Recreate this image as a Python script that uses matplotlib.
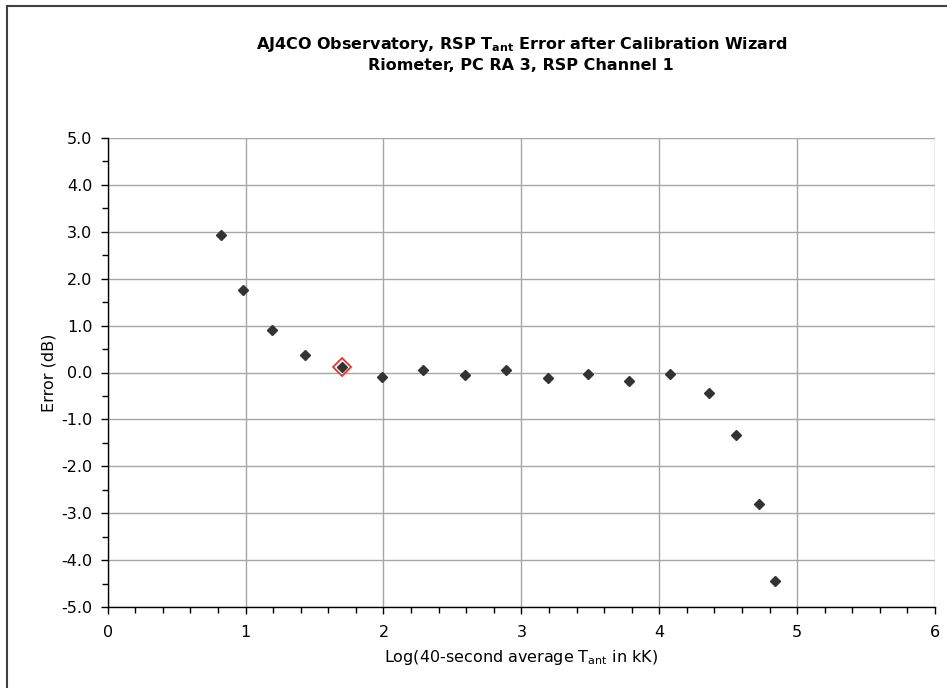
import matplotlib
matplotlib.use("Agg")
import matplotlib.pyplot as plt
from matplotlib.lines import Line2D
from matplotlib.ticker import MultipleLocator, FormatStrFormatter

# Data
log_tant = [0.82, 0.98, 1.19, 1.43, 1.70, 1.99, 2.29, 2.59, 2.89, 3.19,
            3.48, 3.78, 4.08, 4.36, 4.56, 4.72, 4.84]
error_db = [2.93, 1.76, 0.90, 0.37, 0.12, -0.09, 0.05, -0.05, 0.05, -0.12,
            -0.03, -0.18, -0.03, -0.44, -1.34, -2.80, -4.44]
highlight_index = 4

title_lines = [r"AJ4CO Observatory, RSP T$_{\mathbf{ant}}$ Error after Calibration Wizard",
               "Riometer, PC RA 3, RSP Channel 1"]
x_label = r"Log(40-second average T$_{\mathregular{ant}}$ in kK)"
y_label = "Error (dB)"

plt.rcParams['font.family'] = ['DejaVu Sans']
plt.rcParams['mathtext.fontset'] = 'dejavusans'

W, H = 947, 688
fig = plt.figure(figsize=(W / 100, H / 100), dpi=100)
ax = fig.add_axes([107.7 / W, 1 - 607 / H, (935 - 107.7) / W, (607 - 138) / H])

ax.set_xlim(0, 6)
ax.set_ylim(-5, 5)
ax.xaxis.set_major_locator(MultipleLocator(1))
ax.xaxis.set_minor_locator(MultipleLocator(0.2))
ax.yaxis.set_major_locator(MultipleLocator(1))
ax.yaxis.set_minor_locator(MultipleLocator(0.5))
ax.yaxis.set_major_formatter(FormatStrFormatter('%.1f'))
ax.xaxis.set_major_formatter(FormatStrFormatter('%d'))

ax.grid(True, which='major', color='#a6a6a6', linewidth=1.0)
ax.set_axisbelow(True)
for s in ['top', 'right']:
    ax.spines[s].set_visible(False)
for s in ['left', 'bottom']:
    ax.spines[s].set_color('black')
    ax.spines[s].set_linewidth(1.0)

ax.tick_params(axis='both', which='major', direction='out', length=5, width=1,
               labelsize=11.5, colors='black', pad=6)
ax.tick_params(axis='both', which='minor', direction='out', length=4, width=1)
ax.tick_params(axis='x', which='major', pad=8)

# highlighted point outline
hx, hy = log_tant[highlight_index], error_db[highlight_index]
ax.plot([hx], [hy], linestyle='none', marker='D', markersize=9,
        markerfacecolor='white', markeredgecolor='#ff2020', markeredgewidth=1.2, zorder=3)
ax.plot(log_tant, error_db, linestyle='none', marker='D', markersize=5.5,
        markerfacecolor='#333333', markeredgecolor='#333333', zorder=4)

ax.set_xlabel(x_label, fontsize=11.5, labelpad=6)
ax.set_ylabel(y_label, fontsize=11.5, labelpad=3.5)

cx = (107.7 + 935) / 2 / W
fig.text(cx, 1 - 45 / H, title_lines[0], ha='center', va='center',
         fontsize=11.5, fontweight='bold')
fig.text(cx, 1 - 66 / H, title_lines[1], ha='center', va='center',
         fontsize=11.5, fontweight='bold')

# outer chart frame (top and left edges visible)
fig.add_artist(Line2D([7 / W, 7 / W], [0, 1 - 6 / H], color='#404040', linewidth=1.5,
                      transform=fig.transFigure))
fig.add_artist(Line2D([7 / W, 1], [1 - 6 / H, 1 - 6 / H], color='#404040', linewidth=1.5,
                      transform=fig.transFigure))

fig.savefig('out.png', dpi=100)
